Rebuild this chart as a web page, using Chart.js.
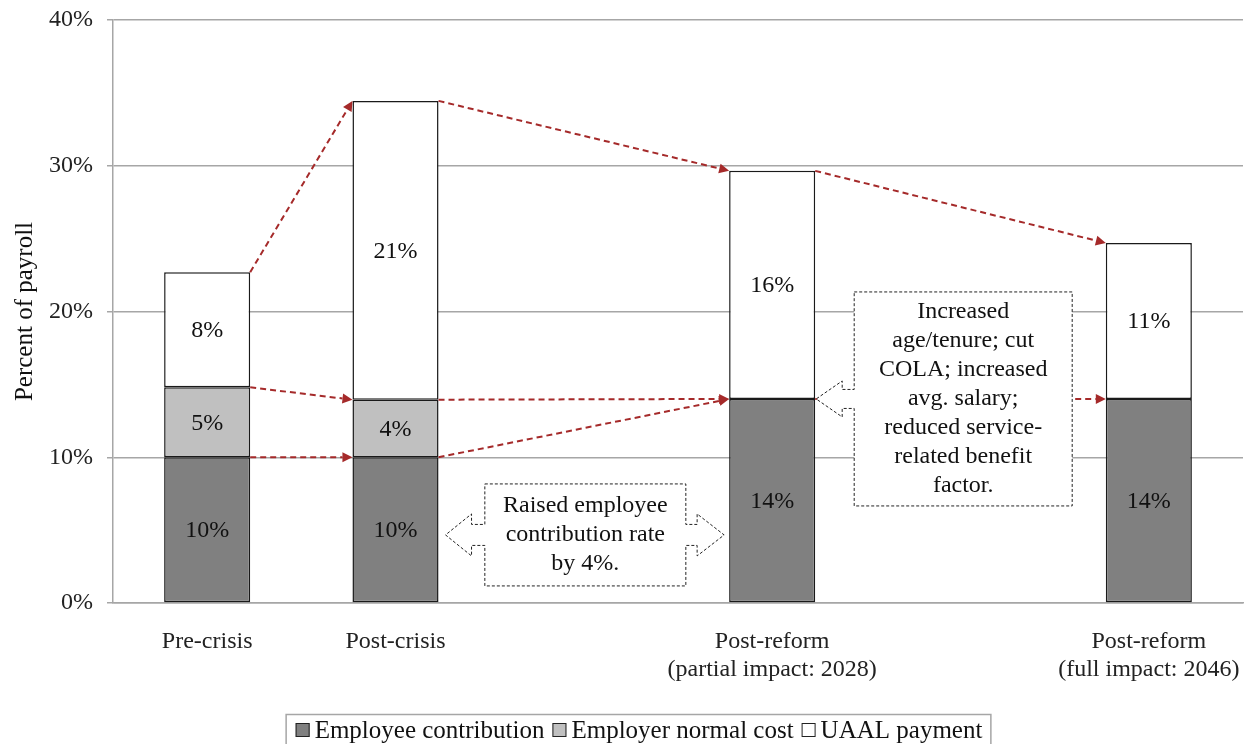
<!DOCTYPE html>
<html>
<head>
<meta charset="utf-8">
<script src="https://cdn.jsdelivr.net/npm/chart.js@4"></script>
<style>
  body { margin: 0; background: #fff; }
  #wrap { width: 1246px; height: 744px; }
</style>
</head>
<body>
<div id="wrap"><canvas id="chart" width="1246" height="744"></canvas></div>
<script>
const FONT = "'Liberation Serif', 'Times New Roman', serif";

// empty slots keep the wider gaps between the later stages
const categories = [
  "Pre-crisis",
  "Post-crisis",
  "",
  ["Post-reform", "(partial impact: 2028)"],
  "",
  ["Post-reform", "(full impact: 2046)"],
];
const employeeContribution = [10, 10, null, 14, null, 14];
const employerNormalCost = [4.8, 3.95, null, null, null, null];
const uaalPayment = [7.9, 20.5, null, 15.65, null, 10.7];
const yTicks = [0, 10, 20, 30, 40];

const seriesNames = ["Employee contribution", "Employer normal cost", "UAAL payment"];
const seriesColors = ["#808080", "#c0c0c0", "#ffffff"];

// [from bar, stack level, to bar, stack level]; level 0 = employee, 1 = +employer, 2 = total
const transitions = [
  [0, 2, 1, 2],
  [0, 1, 1, 1],
  [0, 0, 1, 0],
  [1, 2, 3, 2],
  [1, 1, 3, 1],
  [1, 0, 3, 0],
  [3, 2, 5, 2],
  [3, 1, 5, 1],
];

const noteEmployee = ["Raised employee", "contribution rate", "by 4%."];
const noteBenefits = ["Increased", "age/tenure; cut", "COLA; increased", "avg. salary;", "reduced service-", "related benefit", "factor."];

const stackTop = (i, level) => {
  const parts = [employeeContribution[i], employerNormalCost[i], uaalPayment[i]];
  let sum = 0;
  for (let k = 0; k <= level; k++) sum += parts[k] || 0;
  return sum;
};

const arrowPlugin = {
  id: "arrows",
  afterDatasetsDraw(chart) {
    const ctx = chart.ctx;
    const y = chart.scales.y;
    const bars = chart.getDatasetMeta(0).data;
    const edge = (i, side) => bars[i].x + side * bars[i].width / 2;

    ctx.save();
    ctx.strokeStyle = "#a52a2a";
    ctx.fillStyle = "#a52a2a";
    ctx.lineWidth = 2;
    transitions.forEach(([a, la, b, lb]) => {
      const x1 = edge(a, 1), y1 = y.getPixelForValue(stackTop(a, la));
      const x2 = edge(b, -1), y2 = y.getPixelForValue(stackTop(b, lb));
      const ang = Math.atan2(y2 - y1, x2 - x1);
      const hl = 10, hw = 5;
      const bx = x2 - hl * Math.cos(ang), by = y2 - hl * Math.sin(ang);
      ctx.setLineDash([6, 4]);
      ctx.beginPath();
      ctx.moveTo(x1, y1);
      ctx.lineTo(bx, by);
      ctx.stroke();
      ctx.setLineDash([]);
      ctx.beginPath();
      ctx.moveTo(x2, y2);
      ctx.lineTo(bx + hw * Math.sin(ang), by - hw * Math.cos(ang));
      ctx.lineTo(bx - hw * Math.sin(ang), by + hw * Math.cos(ang));
      ctx.closePath();
      ctx.fill();
    });
    ctx.restore();

    // callout boxes with block arrows
    const callout = (L, R, T, B, cy, sh, hh, leftTip, rightTip, lines) => {
      ctx.save();
      ctx.beginPath();
      ctx.moveTo(L, T);
      ctx.lineTo(R, T);
      if (rightTip !== null) {
        const rh = rightTip - 27;
        ctx.lineTo(R, cy - sh);
        ctx.lineTo(rh, cy - sh);
        ctx.lineTo(rh, cy - hh);
        ctx.lineTo(rightTip, cy);
        ctx.lineTo(rh, cy + hh);
        ctx.lineTo(rh, cy + sh);
        ctx.lineTo(R, cy + sh);
      }
      ctx.lineTo(R, B);
      ctx.lineTo(L, B);
      const lh = leftTip + 26;
      ctx.lineTo(L, cy + sh);
      ctx.lineTo(lh, cy + sh);
      ctx.lineTo(lh, cy + hh);
      ctx.lineTo(leftTip, cy);
      ctx.lineTo(lh, cy - hh);
      ctx.lineTo(lh, cy - sh);
      ctx.lineTo(L, cy - sh);
      ctx.closePath();
      ctx.fillStyle = "#fff";
      ctx.fill();
      ctx.setLineDash([3, 2]);
      ctx.lineWidth = 1;
      ctx.strokeStyle = "#222";
      ctx.stroke();
      ctx.setLineDash([]);
      ctx.fillStyle = "#111";
      ctx.font = "24px " + FONT;
      ctx.textAlign = "center";
      ctx.textBaseline = "middle";
      const cx = (L + R) / 2;
      const top = (T + B) / 2 - (lines.length - 1) * 29 / 2;
      lines.forEach((t, k) => ctx.fillText(t, cx, top + k * 29));
      ctx.restore();
    };

    const c1 = (edge(1, 1) + edge(3, -1)) / 2 + 1;
    const cy1 = y.getPixelForValue(4.67);
    callout(c1 - 100, c1 + 101, cy1 - 51, cy1 + 51, cy1, 10.5, 21,
      edge(1, 1) + 7, edge(3, -1) - 5, noteEmployee);

    const tip2 = edge(3, 1) + 1;
    const cy2 = y.getPixelForValue(14);
    callout(tip2 + 38, tip2 + 256, cy2 - 107, cy2 + 107, cy2, 9.5, 18,
      tip2, null, noteBenefits);
  },
};

const labelPlugin = {
  id: "segmentLabels",
  afterDatasetsDraw(chart) {
    const ctx = chart.ctx;
    ctx.save();
    ctx.font = "24px " + FONT;
    ctx.fillStyle = "#111";
    ctx.textAlign = "center";
    ctx.textBaseline = "middle";
    chart.data.datasets.forEach((ds, d) => {
      chart.getDatasetMeta(d).data.forEach((el, i) => {
        const v = ds.data[i];
        if (v === null || v === undefined) return;
        ctx.fillText(Math.round(v) + "%", el.x, (el.y + el.base) / 2 + 1);
      });
    });
    ctx.restore();
  },
};

const legendPlugin = {
  id: "boxLegend",
  afterDraw(chart) {
    const ctx = chart.ctx;
    ctx.save();
    ctx.font = "25px " + FONT;
    const box = 14, gap = 5, itemGap = 8;
    const widths = seriesNames.map((n) => box + gap + ctx.measureText(n).width);
    const total = widths.reduce((s, w) => s + w, 0) + itemGap * (seriesNames.length - 1);
    let x = 639 - total / 2;
    const cy = 730;
    ctx.strokeStyle = "#a6a6a6";
    ctx.lineWidth = 1.5;
    ctx.strokeRect(x - 9.5, 714.5, total + 18, 40);
    ctx.textBaseline = "middle";
    seriesNames.forEach((n, k) => {
      ctx.fillStyle = seriesColors[k];
      ctx.fillRect(x, cy - box / 2, box, box);
      ctx.strokeStyle = "#222";
      ctx.lineWidth = 1;
      ctx.strokeRect(x + 0.5, cy - box / 2 + 0.5, box - 1, box - 1);
      ctx.fillStyle = "#111";
      ctx.fillText(n, x + box + gap, cy + 1);
      x += widths[k] + itemGap;
    });
    ctx.restore();
  },
};

const makeSet = (k, data) => ({
  label: seriesNames[k],
  data,
  backgroundColor: seriesColors[k],
  borderColor: "#1a1a1a",
  borderWidth: 1.5,
  borderSkipped: false,
  categoryPercentage: 1,
  barPercentage: 0.457,
});

new Chart(document.getElementById("chart"), {
  type: "bar",
  data: {
    labels: categories,
    datasets: [
      makeSet(0, employeeContribution),
      makeSet(1, employerNormalCost),
      makeSet(2, uaalPayment),
    ],
  },
  plugins: [arrowPlugin, labelPlugin, legendPlugin],
  options: {
    responsive: false,
    animation: false,
    layout: { padding: { top: 20, right: 3, left: 0, bottom: 0 } },
    plugins: { legend: { display: false }, tooltip: { enabled: false } },
    scales: {
      x: {
        stacked: true,
        grid: { display: false },
        border: { color: "#a6a6a6", width: 1.5 },
        ticks: { font: { family: FONT, size: 24 }, color: "#222", padding: 16, maxRotation: 0, autoSkip: false },
        afterFit: (s) => { s.height = 141; s.paddingLeft = 0; s.paddingRight = 0; },
      },
      y: {
        stacked: true,
        min: 0,
        max: 40,
        afterBuildTicks: (s) => { s.ticks = yTicks.map((v) => ({ value: v })); },
        ticks: { font: { family: FONT, size: 24 }, color: "#222", padding: 14, callback: (v) => v + "%" },
        grid: { color: "#a6a6a6", lineWidth: 1.5, tickLength: 6 },
        border: { color: "#a6a6a6", width: 1.5 },
        title: { display: true, text: "Percent of payroll", font: { family: FONT, size: 25 }, color: "#111", padding: { top: 10, bottom: 0 } },
        afterFit: (s) => { s.width = 113; s.paddingTop = 0; s.paddingBottom = 0; },
      },
    },
  },
});
</script>
</body>
</html>
